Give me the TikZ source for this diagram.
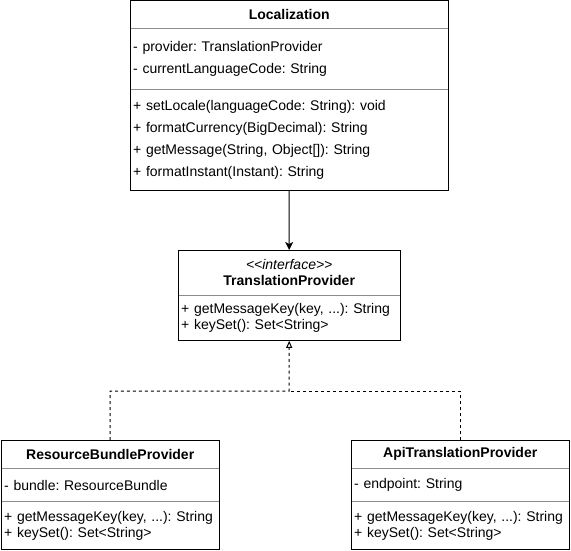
\documentclass[tikz,border=0pt]{standalone}
\usepackage{fontspec}
\setmainfont{Liberation Sans}
\usetikzlibrary{positioning,arrows.meta}
\frenchspacing
\newcommand\umlfont{\fontsize{14bp}{16bp}\selectfont}
\newcommand\rowfont{\fontsize{14bp}{22bp}\selectfont}
\newcommand\stereo[1]{\textless\kern0pt\textless#1\textgreater\kern0pt\textgreater}
\begin{document}
\begin{tikzpicture}[x=1bp,y=-1bp,
  compart/.style={inner xsep=3bp,inner ysep=0pt,text width=#1,align=left,font=\umlfont},
  headpart/.style={compart=#1,align=center,font=\umlfont\bfseries},
  sep/.style={draw=black!45,line width=1bp},
  frame/.style={draw=black,line width=1bp},
  assoc/.style={line width=1bp,-{Stealth[length=8bp,width=8bp,inset=2bp]}},
  impl/.style={line width=1bp,dashed,-{Triangle[open,length=7bp,width=6bp]}}]
\useasboundingbox (0,0) rectangle (571,551);
% Localization
\node[headpart=312bp,anchor=north west,minimum height=27bp] (loc) at (130,1) {Localization};
\node[compart=312bp,minimum height=61bp,font=\rowfont,below=0pt of loc] (locattr)
  {- provider: TranslationProvider\\- currentLanguageCode: String};
\node[compart=312bp,minimum height=100bp,font=\rowfont,below=0pt of locattr] (locops)
  {+ setLocale(languageCode: String): void\\+ formatCurrency(BigDecimal): String\\
   + getMessage(String, Object[]): String\\+ formatInstant(Instant): String};
\draw[sep] (locattr.north west) -- (locattr.north east) (locops.north west) -- (locops.north east);
\draw[frame] (loc.north west) rectangle (locops.south east);
% TranslationProvider
\node[headpart=216bp,anchor=north west,minimum height=45bp] (tphead) at (178,250)
  {{\mdseries\itshape \stereo{interface}}\\TranslationProvider};
\node[compart=216bp,minimum height=45bp,below=0pt of tphead] (tpops)
  {+ getMessageKey(key, ...): String\\+ keySet(): Set\textless String\textgreater};
\draw[sep] (tpops.north west) -- (tpops.north east);
\draw[frame] (tphead.north west) rectangle (tpops.south east);
% ResourceBundleProvider
\node[headpart=212bp,anchor=north west,minimum height=28bp] (rbp) at (1,440) {ResourceBundleProvider};
\node[compart=212bp,minimum height=33bp,below=0pt of rbp] (rbpattr) {- bundle: ResourceBundle};
\node[compart=212bp,minimum height=47bp,below=0pt of rbpattr] (rbpops)
  {+ getMessageKey(key, ...): String\\+ keySet(): Set\textless String\textgreater};
\draw[sep] (rbpattr.north west) -- (rbpattr.north east) (rbpops.north west) -- (rbpops.north east);
\draw[frame] (rbp.north west) rectangle (rbpops.south east);
% ApiTranslationProvider
\node[headpart=212bp,anchor=north west,minimum height=28bp] (atp) at (351,440) {ApiTranslationProvider};
\node[compart=212bp,minimum height=33bp,below=0pt of atp] (atpattr) {- endpoint: String};
\node[compart=212bp,minimum height=47bp,below=0pt of atpattr] (atpops)
  {+ getMessageKey(key, ...): String\\+ keySet(): Set\textless String\textgreater};
\draw[sep] (atpattr.north west) -- (atpattr.north east) (atpops.north west) -- (atpops.north east);
\draw[frame] (atp.north west) rectangle (atpops.south east);
% connectors
\coordinate (tpjoin) at (289,391);
\draw[assoc] (locops.south) -- (tphead.north);
\draw[impl] (rbp.north) |- (tpjoin) -- (tpops.south);
\draw[line width=1bp,dashed] (atp.north) |- (tpjoin);
\end{tikzpicture}
\end{document}
